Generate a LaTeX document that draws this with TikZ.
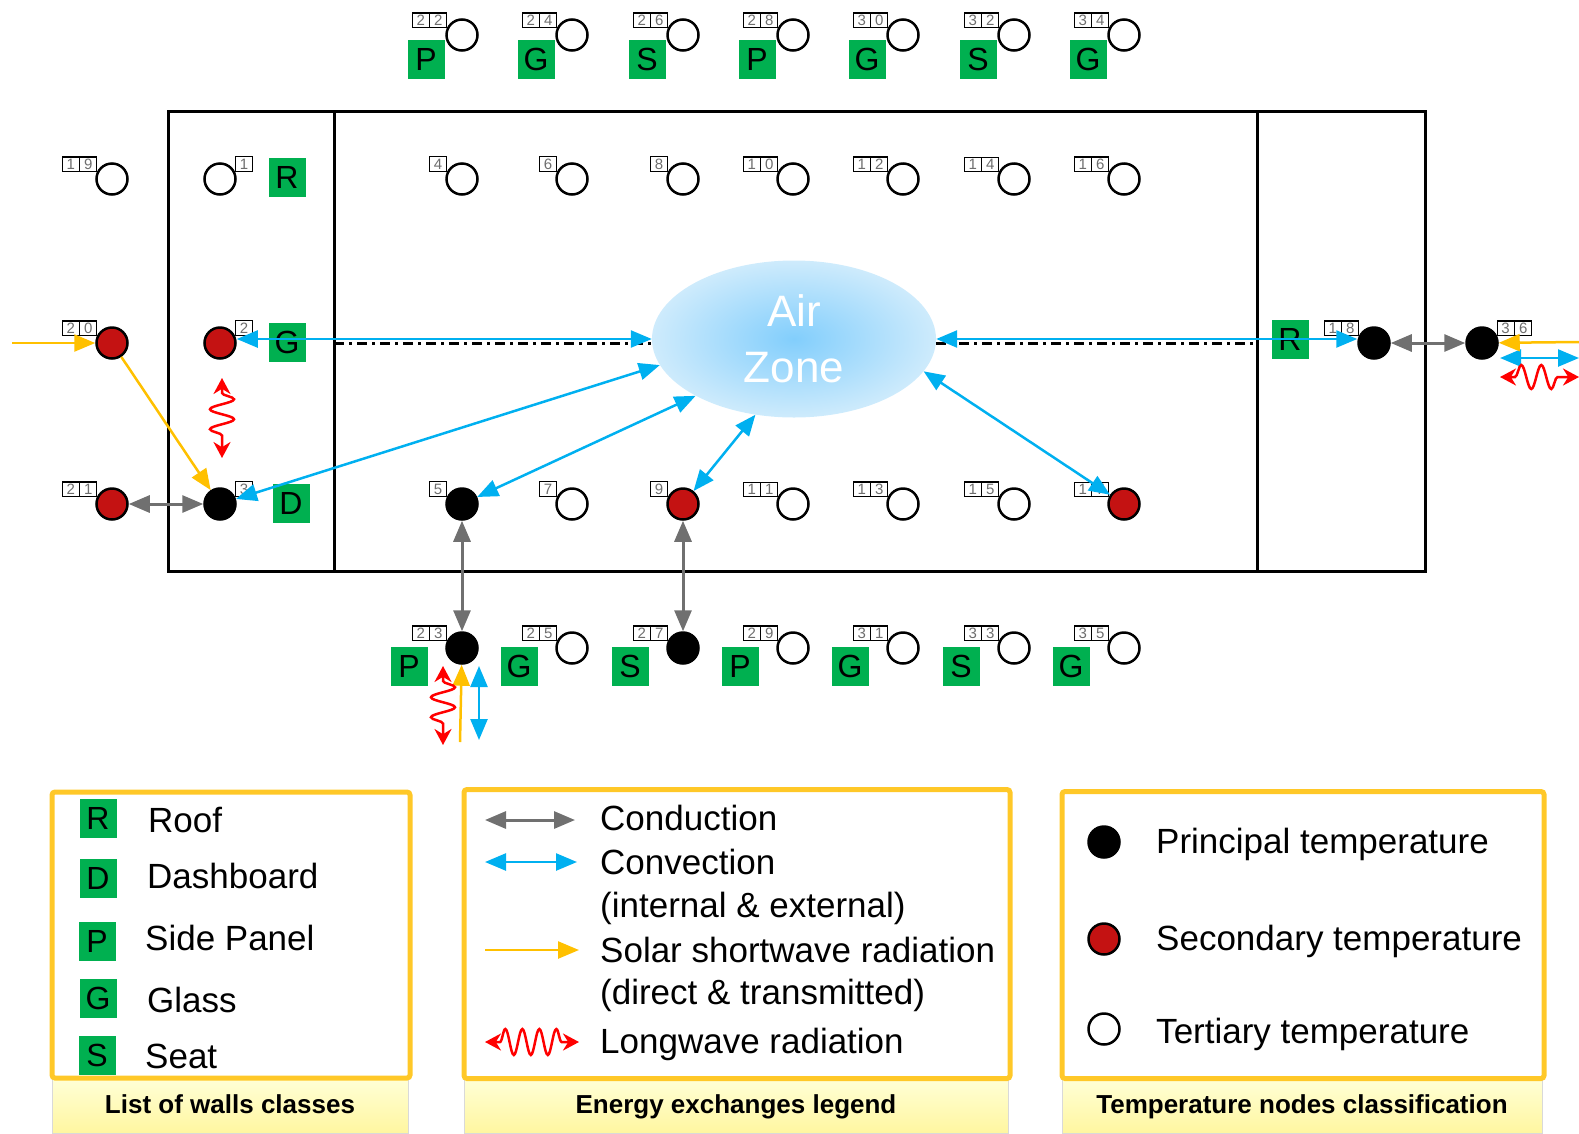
\documentclass[tikz,border=0pt]{standalone}
\usepackage{fontspec}
\setmainfont{Liberation Sans}
\usetikzlibrary{arrows.meta, positioning, shapes.geometric, shapes.multipart, decorations.pathmorphing}
\definecolor{wallgreen}{RGB}{0,176,80}
\definecolor{convblue}{RGB}{0,176,240}
\definecolor{condgray}{RGB}{112,112,112}
\definecolor{solaryellow}{RGB}{255,192,0}
\definecolor{lwred}{RGB}{255,0,0}
\definecolor{nodered}{RGB}{196,18,18}
\definecolor{taggray}{RGB}{110,110,110}
\definecolor{legorange}{RGB}{255,200,40}
\definecolor{captop}{RGB}{255,255,214}
\definecolor{capbot}{RGB}{255,246,160}
\definecolor{airin}{RGB}{130,206,252}
\definecolor{airout}{RGB}{206,235,252}

\begin{document}
\begin{tikzpicture}[x=1pt, y=-1pt, >={Triangle[length=21pt, width=17pt]},
  temp/.style={circle, draw, line width=2.5pt, minimum size=31pt, inner sep=0pt},
  principal/.style={temp, fill=black},
  secondary/.style={temp, fill=nodered},
  tertiary/.style={temp, fill=white},
  wall/.style={fill=wallgreen, minimum width=37pt, minimum height=39pt, inner sep=0pt,
               font=\fontsize{32}{32}\selectfont},
  numtag/.style={draw, fill=white, line width=1.2pt, minimum width=17pt, minimum height=15pt,
                 inner sep=0pt, text=taggray, font=\fontsize{15}{15}\selectfont},
  numtwo/.style={numtag, rectangle split, rectangle split horizontal, rectangle split parts=2,
                 minimum width=0pt, minimum height=0pt, inner xsep=4pt, inner ysep=2pt},
  airzone/.style={ellipse, minimum width=284pt, minimum height=157pt, inner sep=0pt,
                  inner color=airin, outer color=airout, text=white, align=center,
                  font=\fontsize{44}{56}\selectfont},
  conv/.style={<->, line width=2.5pt, convblue},
  cond/.style={<->, line width=3pt, condgray},
  solar/.style={->, line width=2.5pt, solaryellow},
  longwave/.style={{Stealth[length=16pt, width=17pt]}-{Stealth[length=16pt, width=17pt]},
                   line width=2.5pt, lwred, decorate,
                   decoration={snake, amplitude=12pt, segment length=20pt, pre length=15pt, post length=15pt}},
  midline/.style={line width=3pt, dash pattern=on 10pt off 5pt on 3pt off 5pt},
  legbox/.style={draw=legorange, line width=5pt, rounded corners=3pt},
  capbox/.style={top color=captop, bottom color=capbot, draw=gray!30, line width=1pt,
                 text height=19pt, text depth=5pt, font=\bfseries\fontsize{26}{26}\selectfont},
  legtext/.style={anchor=base west, inner sep=0pt, font=\fontsize{35}{35}\selectfont}
]
  \useasboundingbox (0,0) rectangle (1579,1133);

  % cabin walls
  \draw[line width=3pt] (168,111) rectangle (1425,571);
  \draw[line width=3pt] (334,111) -- (334,571);
  \draw[line width=3pt] (1257,111) -- (1257,571);
  \draw[midline] (334,343) -- (652,343);
  \draw[midline] (936,343) -- (1257,343);

  % top row
  \node[tertiary] (n22) at (462,35) {};
  \node[numtwo, above left=-5pt and 3pt of n22] (t22) {2\nodepart{two}2};
  \node[wall] (w22) at (426,59) {P};
  \node[tertiary] (n24) at (572,35) {};
  \node[numtwo, above left=-5pt and 3pt of n24] (t24) {2\nodepart{two}4};
  \node[wall] (w24) at (536,59) {G};
  \node[tertiary] (n26) at (683,35) {};
  \node[numtwo, above left=-5pt and 3pt of n26] (t26) {2\nodepart{two}6};
  \node[wall] (w26) at (647,59) {S};
  \node[tertiary] (n28) at (793,35) {};
  \node[numtwo, above left=-5pt and 3pt of n28] (t28) {2\nodepart{two}8};
  \node[wall] (w28) at (757,59) {P};
  \node[tertiary] (n30) at (903,35) {};
  \node[numtwo, above left=-5pt and 3pt of n30] (t30) {3\nodepart{two}0};
  \node[wall] (w30) at (867,59) {G};
  \node[tertiary] (n32) at (1014,35) {};
  \node[numtwo, above left=-5pt and 3pt of n32] (t32) {3\nodepart{two}2};
  \node[wall] (w32) at (978,59) {S};
  \node[tertiary] (n34) at (1124,35) {};
  \node[numtwo, above left=-5pt and 3pt of n34] (t34) {3\nodepart{two}4};
  \node[wall] (w34) at (1088,59) {G};

  % upper nodes
  \node[tertiary] (n19) at (112,179) {};
  \node[numtwo, above left=-5pt and 3pt of n19] (t19) {1\nodepart{two}9};
  \node[tertiary] (n1) at (220,179) {};
  \node[numtag, above right=-5pt and 3pt of n1] (t1) {1};
  \node[wall] (wroof) at (287,177) {R};
  \node[tertiary] (n4) at (462,179) {};
  \node[numtag, above left=-5pt and 3pt of n4] (t4) {4};
  \node[tertiary] (n6) at (572,179) {};
  \node[numtag, above left=-5pt and 3pt of n6] (t6) {6};
  \node[tertiary] (n8) at (683,179) {};
  \node[numtag, above left=-5pt and 3pt of n8] (t8) {8};
  \node[tertiary] (n10) at (793,179) {};
  \node[numtwo, above left=-5pt and 3pt of n10] (t10) {1\nodepart{two}0};
  \node[tertiary] (n12) at (903,179) {};
  \node[numtwo, above left=-5pt and 3pt of n12] (t12) {1\nodepart{two}2};
  \node[tertiary] (n14) at (1014,179) {};
  \node[numtwo, above left=-5pt and 3pt of n14] (t14) {1\nodepart{two}4};
  \node[tertiary] (n16) at (1124,179) {};
  \node[numtwo, above left=-5pt and 3pt of n16] (t16) {1\nodepart{two}6};

  % middle nodes
  \node[secondary] (n20) at (112,343) {};
  \node[numtwo, above left=-5pt and 3pt of n20] (t20) {2\nodepart{two}0};
  \node[secondary] (n2) at (220,343) {};
  \node[numtag, above right=-5pt and 3pt of n2] (t2) {2};
  \node[wall] (wglass) at (287,342) {G};
  \node[airzone] (air) at (794,339) {Air\\Zone};
  \node[wall] (wroofR) at (1290,339) {R};
  \node[principal] (n18) at (1374,343) {};
  \node[numtwo, above left=-5pt and 3pt of n18] (t18) {1\nodepart{two}8};
  \node[principal] (n36) at (1482,343) {};
  \node[numtwo, above right=-5pt and 3pt of n36] (t36) {3\nodepart{two}6};

  % lower nodes
  \node[secondary] (n21) at (112,504) {};
  \node[numtwo, above left=-5pt and 3pt of n21] (t21) {2\nodepart{two}1};
  \node[principal] (n3) at (220,504) {};
  \node[numtag, above right=-5pt and 3pt of n3] (t3) {3};
  \node[wall] (wdash) at (291,503) {D};
  \node[principal] (n5) at (462,504) {};
  \node[numtag, above left=-5pt and 3pt of n5] (t5) {5};
  \node[tertiary] (n7) at (572,504) {};
  \node[numtag, above left=-5pt and 3pt of n7] (t7) {7};
  \node[secondary] (n9) at (683,504) {};
  \node[numtag, above left=-5pt and 3pt of n9] (t9) {9};
  \node[tertiary] (n11) at (793,504) {};
  \node[numtwo, above left=-5pt and 3pt of n11] (t11) {1\nodepart{two}1};
  \node[tertiary] (n13) at (903,504) {};
  \node[numtwo, above left=-5pt and 3pt of n13] (t13) {1\nodepart{two}3};
  \node[tertiary] (n15) at (1014,504) {};
  \node[numtwo, above left=-5pt and 3pt of n15] (t15) {1\nodepart{two}5};
  \node[secondary] (n17) at (1124,504) {};
  \node[numtwo, above left=-5pt and 3pt of n17] (t17) {1\nodepart{two}7};

  % bottom row
  \node[principal] (n23) at (462,648) {};
  \node[numtwo, above left=-5pt and 3pt of n23] (t23) {2\nodepart{two}3};
  \node[wall] (w23) at (409,666) {P};
  \node[tertiary] (n25) at (572,648) {};
  \node[numtwo, above left=-5pt and 3pt of n25] (t25) {2\nodepart{two}5};
  \node[wall] (w25) at (519,666) {G};
  \node[principal] (n27) at (683,648) {};
  \node[numtwo, above left=-5pt and 3pt of n27] (t27) {2\nodepart{two}7};
  \node[wall] (w27) at (630,666) {S};
  \node[tertiary] (n29) at (793,648) {};
  \node[numtwo, above left=-5pt and 3pt of n29] (t29) {2\nodepart{two}9};
  \node[wall] (w29) at (740,666) {P};
  \node[tertiary] (n31) at (903,648) {};
  \node[numtwo, above left=-5pt and 3pt of n31] (t31) {3\nodepart{two}1};
  \node[wall] (w31) at (850,666) {G};
  \node[tertiary] (n33) at (1014,648) {};
  \node[numtwo, above left=-5pt and 3pt of n33] (t33) {3\nodepart{two}3};
  \node[wall] (w33) at (961,666) {S};
  \node[tertiary] (n35) at (1124,648) {};
  \node[numtwo, above left=-5pt and 3pt of n35] (t35) {3\nodepart{two}5};
  \node[wall] (w35) at (1071,666) {G};

  % free ends
  \coordinate (sunL) at (12,343);
  \coordinate (sunR) at (1579,342);
  \coordinate (sunB) at (460,742);
  \coordinate (cvR1) at (1500,358);
  \coordinate (cvR2) at (1579,358);
  \coordinate (cvB1) at (479,666);
  \coordinate (cvB2) at (479,740);
  \coordinate (lwL1) at (222,378);
  \coordinate (lwL2) at (222,458);
  \coordinate (lwR1) at (1500,377);
  \coordinate (lwR2) at (1579,377);
  \coordinate (lwB1) at (443,666);
  \coordinate (lwB2) at (443,745);

  % exchanges
  \draw[conv] (n2.east |- air.west) -- (air.west);
  \draw[conv] (air.east) -- (air.east -| n18.west);
  \draw[conv] (n3) -- (air.191);
  \draw[conv] (n5) -- (air.210);
  \draw[conv] (n9) -- (air.243);
  \draw[conv] (n17) -- (air.346);
  \draw[conv] (cvR1) -- (cvR2);
  \draw[conv] (cvB1) -- (cvB2);
  \draw[cond] (n21) -- (n3);
  \draw[cond] (n18) -- (n36);
  \draw[cond] (n5) -- (n23);
  \draw[cond] (n9) -- (n27);
  \draw[solar] (sunL) -- (n20);
  \draw[solar] (n20) -- (n3);
  \draw[solar] (sunR) -- (n36);
  \draw[solar] (sunB) -- (n23);
  \draw[longwave] (lwL1) -- (lwL2);
  \draw[longwave] (lwR1) -- (lwR2);
  \draw[longwave] (lwB1) -- (lwB2);

  % legends
  \node[capbox, minimum width=356pt, minimum height=55pt] (cap1) at (230,1106) {List of walls classes};
  \node[legbox, minimum width=358pt, minimum height=286pt] (leg1) at (231,935) {};
  \node[capbox, minimum width=544pt, minimum height=54pt] (cap2) at (736,1106) {Energy exchanges legend};
  \node[legbox, minimum width=546pt, minimum height=289pt] (leg2) at (737,934) {};
  \node[capbox, minimum width=480pt, minimum height=54pt] (cap3) at (1302,1106) {Temperature nodes classification};
  \node[legbox, minimum width=482pt, minimum height=287pt] (leg3) at (1303,935) {};

  \node[wall] (lgR) at (98,818) {R};
  \node[legtext] (lgRoof) at (148,832) {Roof};
  \node[wall] (lgD) at (98,878) {D};
  \node[legtext] (lgDash) at (147,888) {Dashboard};
  \node[wall] (lgP) at (97,941) {P};
  \node[legtext] (lgPanel) at (145,950) {Side Panel};
  \node[wall] (lgG) at (98,998) {G};
  \node[legtext] (lgGlass) at (147,1012) {Glass};
  \node[wall] (lgS) at (97,1055) {S};
  \node[legtext] (lgSeat) at (145,1068) {Seat};

  \coordinate (lgc1) at (485,820);
  \coordinate (lgc2) at (575,820);
  \coordinate (lgv1) at (485,862);
  \coordinate (lgv2) at (577,862);
  \coordinate (lgs1) at (485,950);
  \coordinate (lgs2) at (579,950);
  \coordinate (lgl1) at (485,1042);
  \coordinate (lgl2) at (579,1042);
  \draw[cond] (lgc1) -- (lgc2);
  \draw[conv] (lgv1) -- (lgv2);
  \draw[solar] (lgs1) -- (lgs2);
  \draw[longwave, decoration={segment length=17pt, amplitude=13pt}] (lgl1) -- (lgl2);
  \node[legtext] (lgCond) at (600,830) {Conduction};
  \node[legtext] (lgConv) at (600,874) {Convection};
  \node[legtext] (lgConv2) at (600,917) {(internal \& external)};
  \node[legtext] (lgSol) at (600,962) {Solar shortwave radiation};
  \node[legtext] (lgSol2) at (600,1004) {(direct \& transmitted)};
  \node[legtext] (lgLong) at (600,1053) {Longwave radiation};

  \node[principal] (lgPr) at (1104,842) {};
  \node[legtext] (lgPrt) at (1156,853) {Principal temperature};
  \node[secondary] (lgSe) at (1104,939) {};
  \node[legtext] (lgSet) at (1156,950) {Secondary temperature};
  \node[tertiary] (lgTe) at (1104,1029) {};
  \node[legtext] (lgTet) at (1156,1043) {Tertiary temperature};
\end{tikzpicture}
\end{document}
